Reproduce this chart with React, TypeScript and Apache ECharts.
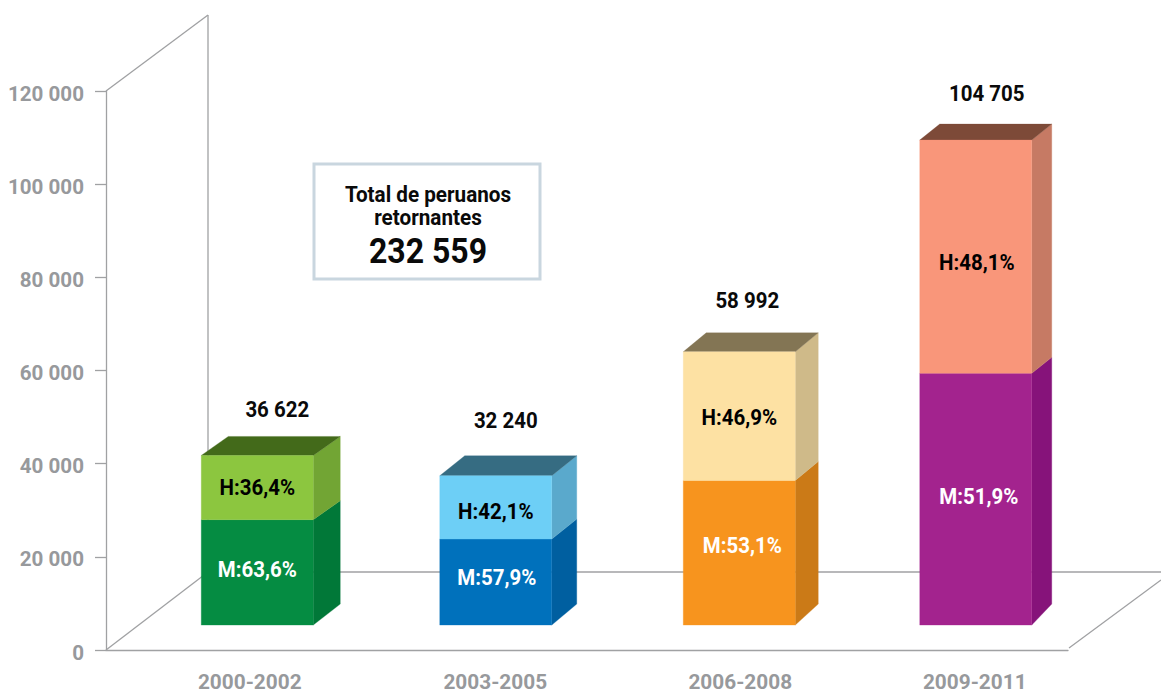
import React, { useEffect, useRef } from "react";
import * as echarts from "echarts";

const categories = ["2000-2002", "2003-2005", "2006-2008", "2009-2011"];
const totals = [36622, 32240, 58992, 104705];
const womenShare = [63.6, 57.9, 53.1, 51.9];
const menShare = [36.4, 42.1, 46.9, 48.1];
const yTicks = { min: 0, max: 120000, interval: 20000 };
const boxLines = ["Total de peruanos", "retornantes"];
const boxTotal = 232559;

// colours: [front, side, top]
const womenColors = [
  ["#058c42", "#017838"],
  ["#0071bc", "#005fa0"],
  ["#f7941e", "#cb7a17"],
  ["#a3238e", "#86137a"],
];
const menColors = [
  ["#8cc63f", "#72a534", "#436a1a"],
  ["#6dcff6", "#5aa9cc", "#366c82"],
  ["#fde1a3", "#cfba89", "#837554"],
  ["#f9967a", "#c67a64", "#7d4a38"],
];

// drawing style: small per-bar nudges of the hand-made 3D look
const barNudgeX = [31, 29, 32, 28];
const depthX = [27, 25, 23, 20];
const depthY = [19, 20, 19, 16];
const baseDepthY = 21;
const barWidth = 112;
const dividerDy = [2.5, 0.5, 0.5, 0];
const totalDx = [20, 10, 8, 11];
const totalDy = [-46, -56, -52, -47];
const menDx = [0, 0, 0, 1];
const menDy = [0, 4, 1, 6];
const womenDx = [0, 1, 3, 3];
const womenDy = [-3, -5, -8, -3];
const categoryLabelNudge = [47, 57, 66, 54];

const FONT = "Roboto, 'Noto Sans', sans-serif";
const spaced = (v: number) => String(v).replace(/\B(?=(\d{3})+(?!\d))/g, " ");
const pct = (v: number) => v.toFixed(1).replace(".", ",") + "%";
const LINE = "#a0a1a3";

export default function App() {
  const ref = useRef<HTMLDivElement>(null);
  useEffect(() => {
    const chart = echarts.init(ref.current!, undefined, { renderer: "svg" });

    const renderItem = (_p: any, api: any) => {
      const i = api.value(0) as number;
      const total = api.value(1) as number;
      const share = api.value(2) as number;
      const left = api.coord([i, 0])[0] + barNudgeX[i] - barWidth / 2;
      const right = left + barWidth;
      const base = api.coord([i, 0])[1];
      const top = api.coord([i, total])[1];
      const div = api.coord([i, (total * share) / 100])[1] + dividerDy[i];
      const dx = depthX[i];
      const dy = depthY[i];
      const cx = (left + right) / 2;
      const poly = (points: number[][], fill: string) => ({
        type: "polygon",
        shape: { points },
        style: { fill, stroke: fill, lineWidth: 0.3 },
      });
      const label = (text: string, x: number, y: number, fill: string) => ({
        type: "text",
        x,
        y,
        scaleX: 0.93,
        style: {
          text,
          fill,
          font: `700 22px ${FONT}`,
          align: "center",
          verticalAlign: "middle",
        },
      });
      return {
        type: "group",
        children: [
          poly([[right, base], [right + dx, base - baseDepthY], [right + dx, div - dy], [right, div]], womenColors[i][1]),
          poly([[right, div], [right + dx, div - dy], [right + dx, top - dy], [right, top]], menColors[i][1]),
          poly([[left, top], [left + dx, top - dy], [right + dx, top - dy], [right, top]], menColors[i][2]),
          poly([[left, div], [right, div], [right, base], [left, base]], womenColors[i][0]),
          poly([[left, top], [right, top], [right, div], [left, div]], menColors[i][0]),
          label("H:" + pct(menShare[i]), cx + menDx[i], (top + div) / 2 + menDy[i], "#000000"),
          label("M:" + pct(share), cx + womenDx[i], (div + base) / 2 + womenDy[i], "#ffffff"),
          label(spaced(total), cx + totalDx[i], top + totalDy[i], "#0a0a0a"),
        ],
      };
    };

    const line = (x1: number, y1: number, x2: number, y2: number) => ({
      type: "line",
      shape: { x1, y1, x2, y2 },
      style: { stroke: LINE, lineWidth: 1.3 },
      silent: true,
    });
    const text = (t: string, y: number, size: number, sx: number) => ({
      type: "text",
      x: 428,
      y,
      scaleX: sx,
      style: {
        text: t,
        fill: "#0a0a0a",
        font: `700 ${size}px ${FONT}`,
        align: "center",
        verticalAlign: "middle",
      },
      silent: true,
    });

    chart.setOption({
      animation: false,
      backgroundColor: "#ffffff",
      grid: { left: 106, right: 93, top: 91, bottom: 42, containLabel: false },
      xAxis: {
        type: "category",
        data: categories.map((c, i) => ({
          value: c,
          textStyle: { padding: [0, 0, 0, categoryLabelNudge[i]] },
        })),
        axisLine: { lineStyle: { color: LINE, width: 1.3 } },
        axisTick: { show: false },
        axisLabel: {
          interval: 0,
          color: "#97999c",
          fontFamily: FONT,
          fontWeight: 700,
          fontSize: 20.8,
          margin: 21,
        },
      },
      yAxis: [
        {
          type: "value",
          min: yTicks.min,
          max: yTicks.max,
          interval: yTicks.interval,
          splitLine: { show: false },
          axisLine: { show: true, lineStyle: { color: LINE, width: 1.3 } },
          axisTick: { show: true, length: 11, lineStyle: { color: LINE, width: 1.3 } },
          axisLabel: {
            margin: 22,
            formatter: (v: number) => `{a|${spaced(v)}}`,
            rich: {
              a: {
                color: "#97999c",
                fontFamily: FONT,
                fontWeight: 700,
                fontSize: 20.6,
                padding: [5, 0, 0, 0],
              },
            },
          },
        },
        // hidden scale of the raised 3D bars: their zero stands on the floor, above the axis
        { type: "value", show: false, min: -5380, max: 115300, splitLine: { show: false } },
      ],
      graphic: [
        line(106, 91, 208, 15),
        line(208, 15, 208, 572),
        line(106, 650, 208, 572),
        line(208, 572, 1161, 572),
        line(1069, 648, 1161, 580),
        {
          type: "rect",
          shape: { x: 314, y: 164, width: 226, height: 115 },
          style: { fill: "#ffffff", stroke: "#c9d6df", lineWidth: 3 },
          silent: true,
        },
        text(boxLines[0], 194, 22, 0.94),
        text(boxLines[1], 217, 22, 0.94),
        text(spaced(boxTotal), 250, 36, 0.89),
      ],
      series: [
        {
          type: "custom",
          xAxisIndex: 0,
          yAxisIndex: 1,
          silent: true,
          clip: false,
          z: 5,
          renderItem,
          encode: { x: 0, y: 1 },
          data: totals.map((t, i) => [i, t, womenShare[i]]),
        },
      ],
    });
    return () => chart.dispose();
  }, []);
  return (
    <div
      ref={ref}
      style={{ position: "fixed", left: 0, top: 0, width: 1161, height: 692 }}
    />
  );
}
